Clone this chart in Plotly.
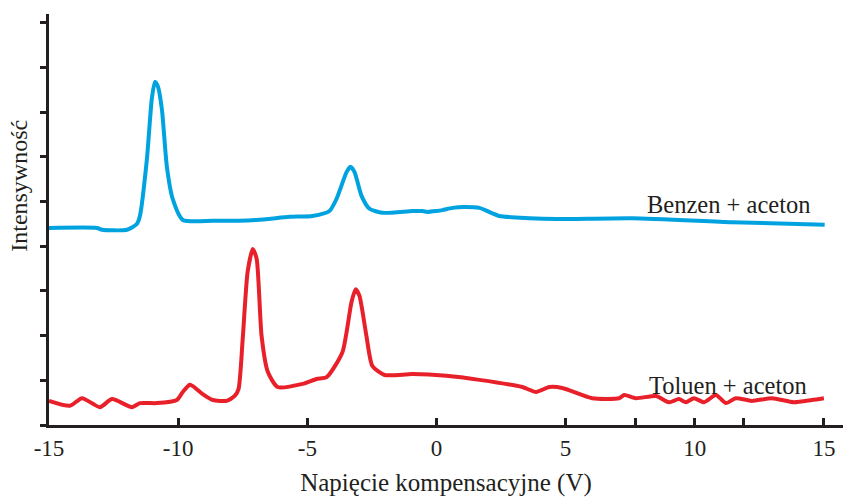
import plotly.graph_objects as go

# Benzen + aceton (blue)
benzen_x = [-15.0, -13.14, -12.95, -11.98, -11.60, -11.48, -11.21, -11.02, -10.90, -10.79,
            -10.63, -10.44, -10.21, -9.82, -8.66, -6.96, -5.68, -4.80, -4.14, -3.87,
            -3.48, -3.33, -3.17, -2.90, -2.59, -2.09, -0.93, -0.54, -0.35, 0.0,
            0.23, 0.62, 1.08, 1.66, 2.43, 3.59, 4.64, 7.57, 11.44, 15.03]
benzen_y = [4.41, 4.41, 4.37, 4.37, 4.50, 4.68, 5.95, 7.30, 7.68, 7.59,
            7.07, 5.80, 5.06, 4.59, 4.57, 4.59, 4.66, 4.68, 4.79, 5.06,
            5.66, 5.78, 5.66, 5.13, 4.84, 4.75, 4.79, 4.79, 4.77, 4.79,
            4.81, 4.86, 4.88, 4.86, 4.68, 4.63, 4.61, 4.63, 4.54, 4.48]

# Toluen + aceton (red)
toluen_x = [-15.0, -14.19, -13.72, -13.03, -12.56, -11.79, -11.48, -10.83, -10.05, -9.82,
            -9.55, -9.43, -9.05, -8.66, -8.12, -7.81, -7.66, -7.50, -7.31, -7.11,
            -6.96, -6.77, -6.53, -6.15, -5.18, -4.64, -4.25, -3.64, -3.29, -3.13,
            -2.98, -2.71, -2.48, -2.01, -0.93, 0.39, 1.66, 3.32, 3.86, 4.37,
            4.87, 6.03, 7.07, 7.27, 7.73, 8.50, 9.00, 9.39, 9.66, 9.97,
            10.36, 10.82, 11.21, 11.59, 12.21, 12.99, 13.84, 14.53, 15.0]
toluen_y = [0.54, 0.43, 0.60, 0.40, 0.58, 0.40, 0.49, 0.49, 0.56, 0.74,
            0.90, 0.87, 0.69, 0.56, 0.54, 0.65, 0.81, 1.93, 3.43, 3.94,
            3.72, 1.99, 1.19, 0.85, 0.92, 1.03, 1.07, 1.63, 2.75, 3.04,
            2.89, 1.99, 1.32, 1.12, 1.14, 1.10, 1.01, 0.85, 0.74, 0.85,
            0.83, 0.60, 0.60, 0.67, 0.60, 0.65, 0.51, 0.58, 0.51, 0.60,
            0.51, 0.67, 0.49, 0.60, 0.54, 0.60, 0.51, 0.56, 0.60]

x_tickvals = [-15, -10, -5, 0, 5, 7.7, 10, 11.9, 15]
x_ticktext = ["-15", "-10", "-5", "0", "5", "", "10", "", "15"]
y_tickvals = [0, 1, 2, 3, 4, 5, 6, 7, 8, 9]

labels = ["Benzen + aceton", "Toluen + aceton"]
label_x = [11.3, 11.28]
label_y = [4.93, 0.88]

FONT = "Liberation Serif"
AXC = "#231f20"

fig = go.Figure()
fig.add_trace(go.Scatter(x=benzen_x, y=benzen_y, mode="lines",
                         line=dict(color="#00a3e0", width=4, shape="spline", smoothing=0.6),
                         showlegend=False, hoverinfo="skip"))
fig.add_trace(go.Scatter(x=toluen_x, y=toluen_y, mode="lines",
                         line=dict(color="#e8202a", width=4, shape="spline", smoothing=0.6),
                         showlegend=False, hoverinfo="skip"))

for t, lx, ly in zip(labels, label_x, label_y):
    fig.add_annotation(x=lx, y=ly, text=t, showarrow=False, xanchor="center", yanchor="middle",
                       font=dict(family=FONT, size=24.5, color=AXC))

fig.add_annotation(xref="paper", yref="paper", x=-0.0378, y=0.582, text="Intensywność",
                   textangle=-90, showarrow=False, xanchor="center", yanchor="middle",
                   font=dict(family=FONT, size=24, color=AXC))

fig.update_layout(
    width=845, height=497,
    margin=dict(l=49, r=2, t=14, b=72),
    paper_bgcolor="white", plot_bgcolor="white",
    xaxis=dict(range=[-15, 15.74], tickvals=x_tickvals, ticktext=x_ticktext,
               ticks="inside", ticklen=7, tickwidth=2.5, tickcolor=AXC,
               showline=True, linecolor=AXC, linewidth=3, showgrid=False, zeroline=False,
               tickfont=dict(family=FONT, size=23, color=AXC),
               title=dict(text="Napięcie kompensacyjne (V)", standoff=14,
                          font=dict(family=FONT, size=25, color=AXC))),
    yaxis=dict(range=[0, 9.2], tickvals=y_tickvals, showticklabels=False,
               ticks="outside", ticklen=6, tickwidth=2.5, tickcolor=AXC,
               showline=True, linecolor=AXC, linewidth=2.5, showgrid=False, zeroline=False),
)

fig.write_html("out.html")
